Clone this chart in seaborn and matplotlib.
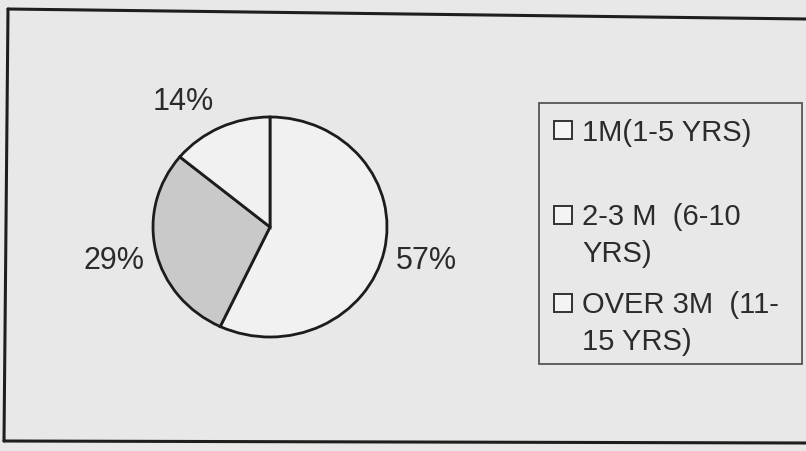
import seaborn as sns
import matplotlib.pyplot as plt
from matplotlib.lines import Line2D
from matplotlib.patches import Rectangle

# data
categories = ["1M(1-5 YRS)", "2-3 M  (6-10\nYRS)", "OVER 3M  (11-\n15 YRS)"]
shares = [57, 29, 14]
slice_colors = ["#f1f1f1", "#c9c9c9", "#f1f1f1"]

sns.set_theme(style="white")
plt.rcParams['font.family'] = ['Liberation Sans', 'DejaVu Sans']

bg = "#e8e8e8"
ink = "#2b2b2b"
W, H = 806, 452

fig = plt.figure(figsize=(8.06, 4.52), dpi=100)
fig.patch.set_facecolor(bg)

# pie (scan is slightly squashed: 234 px wide, 220 px tall)
ax = fig.add_axes([153 / W, (H - 338) / H, 234 / W, 220 / H])
ax.set_facecolor("none")
wedges, texts, autotexts = ax.pie(
    shares, startangle=90, counterclock=False, colors=slice_colors,
    autopct='%1.0f%%', pctdistance=1.37,
    wedgeprops=dict(edgecolor="#1c1c1c", linewidth=2.0),
    textprops=dict(fontsize=22, color=ink))
ax.set_aspect("auto")
ax.set_xlim(-1, 1)
ax.set_ylim(-1, 1)
autotexts[2].set_position((-0.74, 1.15))

# legend box drawn by hand so markers line up with first text line
fig.add_artist(Rectangle((539 / W, 1 - 365 / H), 263 / W, 261 / H,
                         transform=fig.transFigure, facecolor=bg,
                         edgecolor="#555555", linewidth=1.3))
text_top = [119, 203, 291]     # px, top of first text line
marker_y = [131, 216, 304]     # px, marker centres
for label, yt, ym in zip(categories, text_top, marker_y):
    fig.text(582 / W, 1 - yt / H, label, fontsize=21, color=ink,
             va="top", ha="left", linespacing=1.4)
    fig.add_artist(Line2D([563 / W], [1 - ym / H],
                          transform=fig.transFigure, linestyle="none",
                          marker="s", markersize=13, markerfacecolor="#f4f4f4",
                          markeredgecolor="#333333", markeredgewidth=1.4))

# outer frame of the scanned figure
for (x0, y0), (x1, y1) in [((8, 10), (806, 20)), ((8, 10), (4, 442)),
                           ((4, 442), (806, 444))]:
    fig.add_artist(Line2D([x0 / W, x1 / W], [1 - y0 / H, 1 - y1 / H],
                          transform=fig.transFigure, color="#1e1e1e",
                          linewidth=2.2))

plt.savefig("out.png", dpi=100, facecolor=bg)
